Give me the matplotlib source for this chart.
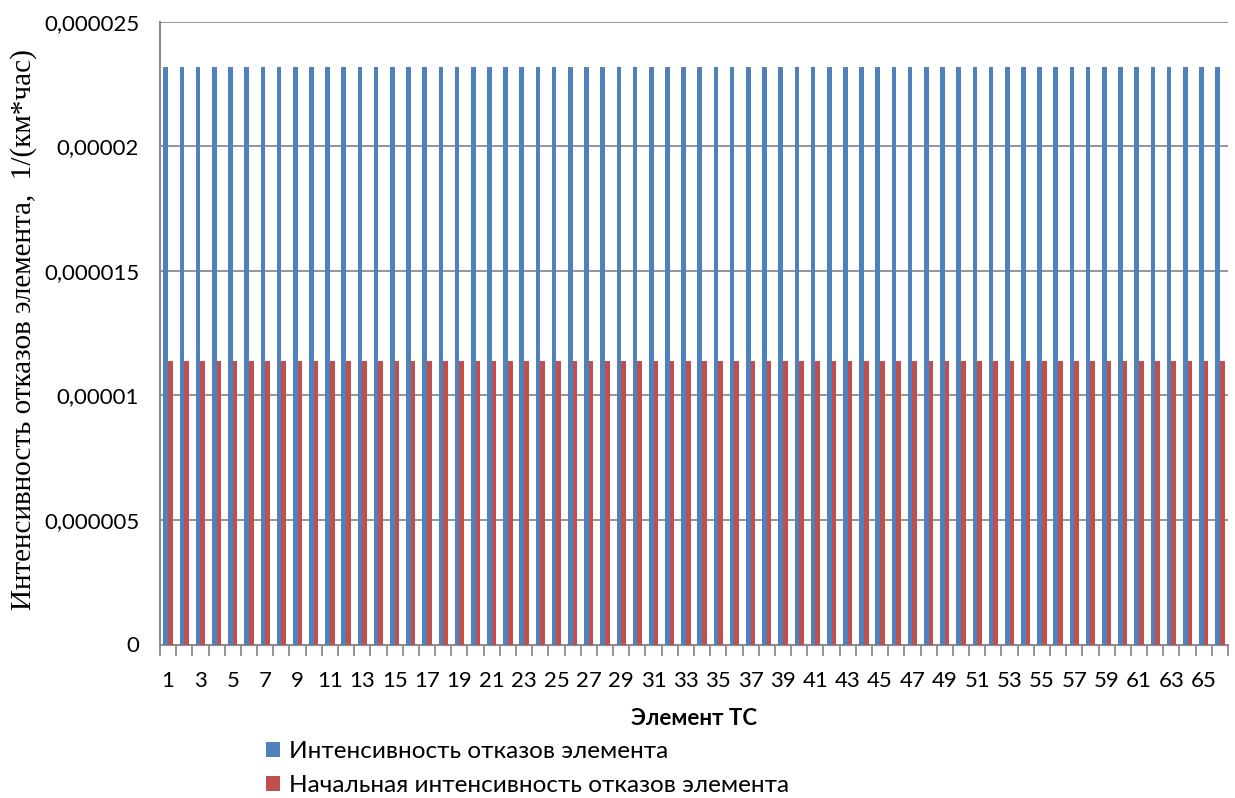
import numpy as np
import matplotlib
matplotlib.use("Agg")
import matplotlib.pyplot as plt
from matplotlib.patches import Patch

# Data: failure intensity per element, 1/(km*h)
elements = list(range(1, 67))
intensity = [2.32e-5] * 66
initial_intensity = [1.14e-5] * 66
series_names = ["Интенсивность отказов элемента",
                "Начальная интенсивность отказов элемента"]
y_ticks = [0, 0.000005, 0.00001, 0.000015, 0.00002, 0.000025]
y_tick_labels = ["0", "0,000005", "0,00001", "0,000015", "0,00002", "0,000025"]

BLUE = "#4F81BD"
RED = "#C0504D"
GRID = "#8C8C8C"
sans = ["Lato", "DejaVu Sans"]

W, H = 1235, 798
fig = plt.figure(figsize=(W / 100, H / 100), dpi=100)
ax_w = 1228 - 160
ax_h = 644.5 - 21.7
ax = fig.add_axes([160 / W, 1 - 644.5 / H, ax_w / W, ax_h / H])

x = np.arange(len(elements))
bw = 1 / 3.5
ax.bar(x - bw / 2, intensity, width=bw, color=BLUE, zorder=3)
ax.bar(x + bw / 2, initial_intensity, width=bw, color=RED, zorder=3)

ax.set_xlim(-0.5, len(elements) - 0.5)
ax.set_ylim(0, 0.000025)
ax.set_yticks(y_ticks)
ax.set_yticklabels(y_tick_labels, fontsize=16, family=sans)
ax.tick_params(axis="y", length=0, pad=15)
ax.yaxis.grid(True, color=GRID, linewidth=1.3, zorder=0)

# category boundary ticks; labels on every other category
ax.set_xticks(np.arange(-0.5, len(elements), 1.0))
ax.set_xticklabels([])
ax.set_xticks(x[::2], minor=True)
ax.set_xticklabels([str(e) for e in elements[::2]], minor=True, fontsize=16, family=sans)
ax.tick_params(axis="x", which="major", length=8, color=GRID, width=1.3)
ax.tick_params(axis="x", which="minor", length=0, pad=19)

for s in ["top", "right"]:
    ax.spines[s].set_visible(False)
for s in ["left", "bottom"]:
    ax.spines[s].set_color(GRID)
    ax.spines[s].set_linewidth(1.5)

ax.set_xlabel("Элемент ТС", fontsize=16, fontweight="bold", family=sans, labelpad=12)
ax.set_ylabel("Интенсивность отказов элемента,  1/(км*час)", fontsize=21,
              family=["Liberation Serif", "DejaVu Serif"])
ax.yaxis.set_label_coords(-123 / ax_w, (644.5 - 330) / ax_h)

handles = [Patch(facecolor=BLUE), Patch(facecolor=RED)]
fig.legend(handles, series_names, loc="upper left", bbox_to_anchor=(266 / W, 1 - 741 / H),
           frameon=False, prop={"family": sans, "size": 17.5}, handlelength=0.58,
           handleheight=0.58, handletextpad=0.35, labelspacing=0.52, borderpad=0,
           borderaxespad=0)

fig.savefig("out.png", dpi=100)
